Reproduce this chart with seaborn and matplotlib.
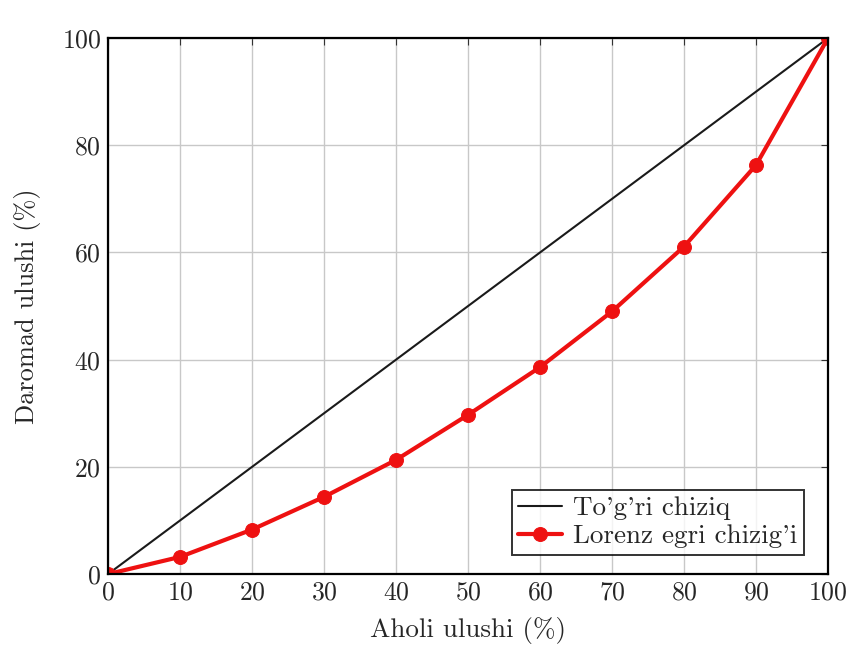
import matplotlib
matplotlib.use("Agg")
import matplotlib.pyplot as plt
import numpy as np
import pandas as pd
import seaborn as sns

# population share (%) and income share (%)
population = [0, 10, 20, 30, 40, 50, 60, 70, 80, 90, 100]
equality = [0, 10, 20, 30, 40, 50, 60, 70, 80, 90, 100]
lorenz = [0, 3.2, 8.3, 14.4, 21.3, 29.7, 38.6, 49.0, 61.1, 76.3, 100]
x_ticks = [0, 10, 20, 30, 40, 50, 60, 70, 80, 90, 100]
y_ticks = [0, 20, 40, 60, 80, 100]

sns.set_style("white")
plt.rcParams['font.family'] = ['cmr10', 'DejaVu Serif']
plt.rcParams['axes.formatter.use_mathtext'] = True
plt.rcParams['mathtext.fontset'] = 'cm'

df = pd.DataFrame({'x': population, 'eq': equality, 'lz': lorenz})

fig = plt.figure(figsize=(8.51, 6.45), dpi=100)
ax = fig.add_axes([0.127, 0.110, 0.846, 0.831])

sns.lineplot(data=df, x='x', y='eq', ax=ax, color='#1a1a1a', linewidth=1.5,
             label="To'g'ri chiziq")
sns.lineplot(data=df, x='x', y='lz', ax=ax, color='#ee1111', linewidth=3.0,
             marker='o', markersize=10, markeredgecolor='#ee1111',
             label="Lorenz egri chizig'i")

ax.set_xlim(0, 100)
ax.set_ylim(0, 100)
ax.set_xticks(x_ticks)
ax.set_yticks(y_ticks)
ax.grid(True, color='#c8c8c8', linewidth=1.0)
ax.tick_params(direction='in', length=5, labelsize=18.5, color='#333333',
               top=True, right=True, pad=5)
for s in ax.spines.values():
    s.set_color('black')
    s.set_linewidth(1.6)

ax.set_xlabel('Aholi ulushi (%)', fontsize=19.5, labelpad=9)
ax.set_ylabel('Daromad ulushi (%)', fontsize=19, labelpad=15)

leg = ax.legend(loc='lower right', fontsize=19.5, frameon=True, fancybox=False,
                edgecolor='black', borderpad=0.25, handlelength=1.6,
                handletextpad=0.4, labelspacing=0.15,
                bbox_to_anchor=(0.985, 0.01))
leg.get_frame().set_linewidth(1.4)

fig.savefig('out.png', dpi=100)
